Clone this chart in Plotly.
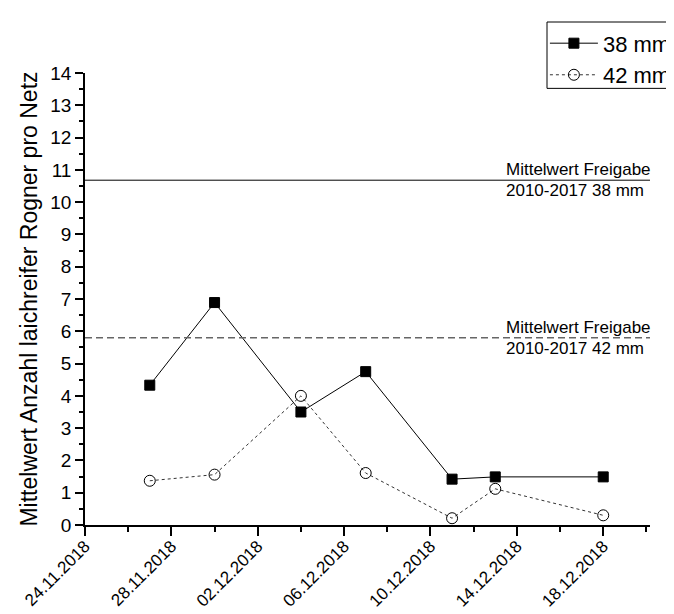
import plotly.graph_objects as go

dates = ["2018-11-27", "2018-11-30", "2018-12-04", "2018-12-07",
         "2018-12-11", "2018-12-13", "2018-12-18"]
mesh38 = [4.33, 6.89, 3.50, 4.75, 1.42, 1.49, 1.49]
mesh42 = [1.37, 1.56, 4.00, 1.61, 0.21, 1.12, 0.30]
series_names = ["38 mm", "42 mm"]
ref38 = 10.68
ref42 = 5.80
ref_top = "Mittelwert Freigabe"
ref38_label = "2010-2017 38 mm"
ref42_label = "2010-2017 42 mm"
y_title = "Mittelwert Anzahl laichreifer Rogner pro Netz"

FONT = "Liberation Sans, Arial, sans-serif"
DAY = 86400000

fig = go.Figure()
fig.add_trace(go.Scatter(
    x=dates, y=mesh38, name=series_names[0], mode="lines+markers",
    line=dict(color="black", width=1),
    marker=dict(symbol="square", size=10, color="black",
                line=dict(color="black", width=1)),
))
fig.add_trace(go.Scatter(
    x=dates, y=mesh42, name=series_names[1], mode="lines+markers",
    line=dict(color="#333333", width=1, dash="3px,3px"),
    marker=dict(symbol="circle-open", size=11, color="black",
                line=dict(color="black", width=1)),
))

fig.add_shape(type="line", xref="paper", yref="y", x0=0, x1=1,
              y0=ref38, y1=ref38, line=dict(color="black", width=1))
fig.add_shape(type="line", xref="paper", yref="y", x0=0, x1=1,
              y0=ref42, y1=ref42,
              line=dict(color="#666666", width=1.5, dash="7px,4px"))
# legend frame, running off the right edge of the page as in the reference
fig.add_shape(type="rect", xref="paper", yref="paper",
              x0=0.8177, x1=1.2, y0=0.966, y1=1.1128,
              line=dict(color="black", width=1), fillcolor="white", layer="below")

ann_x = 0.742
for val, lab in [(ref38, ref38_label), (ref42, ref42_label)]:
    fig.add_annotation(x=ann_x, xref="paper", y=val, yref="y", text=ref_top,
                       showarrow=False, xanchor="left", yanchor="middle",
                       yshift=10.5, font=dict(size=17, color="black", family=FONT))
    fig.add_annotation(x=ann_x, xref="paper", y=val, yref="y", text=lab,
                       showarrow=False, xanchor="left", yanchor="middle",
                       yshift=-10.5, font=dict(size=17, color="black", family=FONT))

fig.update_layout(
    width=674, height=614,
    margin=dict(l=77, r=32, t=65, b=97, autoexpand=False),
    paper_bgcolor="white", plot_bgcolor="white",
    font=dict(family=FONT, color="black"),
    showlegend=True,
    legend=dict(x=0.814, y=1.112, xanchor="left", yanchor="top",
                borderwidth=0, bgcolor="rgba(0,0,0,0)",
                font=dict(size=22, family=FONT), itemwidth=48,
                tracegroupgap=0),
    xaxis=dict(
        type="date",
        range=["2018-11-24", "2018-12-20 04:00"],
        tick0="2018-11-24", dtick=4 * DAY,
        tickformat="%d.%m.%Y", tickangle=-45,
        ticks="outside", ticklen=9, tickwidth=1.5, tickcolor="black",
        ticklabelstandoff=-6,
        minor=dict(dtick=2 * DAY, tick0="2018-11-24", ticks="outside",
                   ticklen=5, tickwidth=1.5, tickcolor="black", showgrid=False),
        showline=True, linecolor="black", linewidth=1.5,
        showgrid=False, zeroline=False,
        tickfont=dict(size=17, family=FONT),
    ),
    yaxis=dict(
        range=[0, 14], dtick=1, tick0=0,
        ticks="outside", ticklen=8, tickwidth=1.5, tickcolor="black",
        minor=dict(dtick=0.5, ticks="outside", ticklen=4, tickwidth=1.5,
                   tickcolor="black", showgrid=False),
        showline=True, linecolor="black", linewidth=1.5,
        showgrid=False, zeroline=False,
        tickfont=dict(size=19, family=FONT),
        title=dict(text=y_title, font=dict(size=23, family=FONT), standoff=6),
    ),
)

fig.write_html("out.html")
